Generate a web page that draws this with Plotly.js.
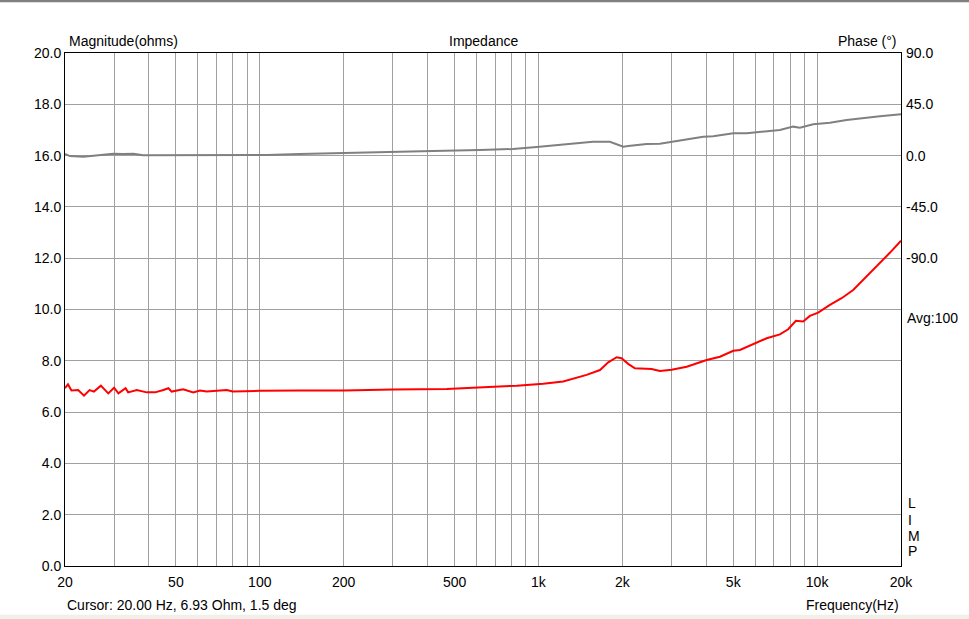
<!DOCTYPE html>
<html>
<head>
<meta charset="utf-8">
<script src="https://cdn.plot.ly/plotly-3.0.1.min.js"></script>
<style>
  html, body { margin: 0; padding: 0; background: #ffffff; }
  #chart { width: 969px; height: 619px; }
</style>
</head>
<body>
<div id="chart"></div>
<script>
// impedance magnitude (ohms) vs frequency (Hz)
const magFreq = [20, 20.5, 21.1, 22.3, 23.4, 24.5, 25.4, 26.9, 28.6, 30.0, 31.1, 33.0, 33.7, 36.2, 39.3,
  42.1, 45.1, 47.0, 48.3, 53.1, 57.7, 61.0, 64.5, 76.1, 80.0, 100, 139, 200, 301, 469, 582, 728, 836,
  1040, 1227, 1489, 1663, 1780, 1909, 1987, 2099, 2219, 2547, 2728, 3006, 3404, 4014, 4482, 5003, 5285,
  5903, 6591, 7352, 7875, 8391, 8914, 9420, 10090, 11115, 12240, 13473, 15060, 16800, 18235, 20000];
const magOhm = [6.93, 7.08, 6.84, 6.86, 6.64, 6.86, 6.80, 7.03, 6.73, 6.95, 6.73, 6.93, 6.77, 6.86, 6.77,
  6.77, 6.86, 6.93, 6.80, 6.89, 6.77, 6.84, 6.80, 6.86, 6.80, 6.83, 6.84, 6.84, 6.88, 6.90, 6.95, 6.99, 7.03,
  7.11, 7.19, 7.45, 7.64, 7.94, 8.14, 8.10, 7.88, 7.71, 7.68, 7.60, 7.65, 7.77, 8.03, 8.16, 8.39, 8.42,
  8.65, 8.88, 9.03, 9.23, 9.56, 9.53, 9.75, 9.88, 10.18, 10.44, 10.76, 11.28, 11.83, 12.21, 12.68];

// impedance phase (degrees) vs frequency (Hz)
const phFreq = [20, 20.8, 23.3, 26.7, 29.8, 32.4, 35.2, 38.2, 61.0, 106, 139, 210, 318, 418, 617, 810, 986,
  1330, 1567, 1805, 1909, 2015, 2099, 2445, 2728, 3218, 3901, 4238, 5003, 5585, 6591, 7352, 8204, 8671,
  9683, 11115, 12760, 14620, 16800, 20000];
const phDeg = [1.5, -0.4, -1.0, 0.8, 1.7, 1.3, 1.7, 0.3, 0.5, 0.5, 1.4, 2.3, 2.9, 4.0, 5.0, 5.8, 7.5,
  10.8, 12.2, 12.2, 10.2, 7.8, 8.4, 10.2, 10.4, 13.1, 16.6, 16.9, 19.6, 19.6, 21.6, 22.5, 25.4, 24.5,
  27.5, 28.9, 31.2, 33.0, 34.5, 36.2];

const gridFreq = [20, 30, 40, 50, 60, 70, 80, 90, 100, 200, 300, 400, 500, 600, 700, 800, 900,
  1000, 2000, 3000, 4000, 5000, 6000, 7000, 8000, 9000, 10000, 20000];
const freqLabels = {20: "20", 50: "50", 100: "100", 200: "200", 500: "500", 1000: "1k",
  2000: "2k", 5000: "5k", 10000: "10k", 20000: "20k"};
const phaseTicks = [90, 45, 0, -45, -90];

const font = { family: "Liberation Sans, Arial, sans-serif", size: 14, color: "#000000" };

const traces = [
  {
    x: phFreq, y: phDeg, yaxis: "y2", type: "scatter", mode: "lines",
    line: { color: "#808080", width: 2 }, hoverinfo: "skip"
  },
  {
    x: magFreq, y: magOhm, type: "scatter", mode: "lines",
    line: { color: "#ff0000", width: 2 }, hoverinfo: "skip"
  }
];

function ann(text, x, y, xanchor, yanchor) {
  return { text: text, x: x, y: y, xref: "paper", yref: "paper", xanchor: xanchor,
    yanchor: yanchor || "middle", showarrow: false, font: font };
}

const layout = {
  width: 969, height: 619,
  margin: { l: 65, r: 68, t: 53, b: 53 },
  paper_bgcolor: "#ffffff", plot_bgcolor: "#ffffff",
  showlegend: false,
  font: font,
  xaxis: {
    type: "log", range: [Math.log10(20), Math.log10(20000)],
    tickmode: "array", tickvals: gridFreq,
    ticktext: gridFreq.map(f => freqLabels[f] || ""),
    showgrid: true, gridcolor: "#a0a0a0", gridwidth: 1,
    showline: true, linecolor: "#000000", linewidth: 1, mirror: true,
    ticks: "", zeroline: false, tickfont: font, ticklabelstandoff: 3
  },
  yaxis: {
    range: [0, 20], tickmode: "linear", tick0: 0, dtick: 2, tickformat: ".1f",
    showgrid: true, gridcolor: "#a0a0a0", gridwidth: 1,
    showline: true, linecolor: "#000000", linewidth: 1, mirror: true,
    ticks: "", zeroline: false, tickfont: font
  },
  yaxis2: {
    overlaying: "y", side: "right", range: [-360, 90],
    tickmode: "array", tickvals: phaseTicks, ticktext: phaseTicks.map(v => v.toFixed(1)),
    showgrid: false, zeroline: false, showline: false, ticks: "", tickfont: font,
    ticklabelstandoff: 4
  },
  annotations: [
    ann("Magnitude(ohms)", 0.002, 1.004, "left", "bottom"),
    ann("Impedance", 0.5, 1.004, "center", "bottom"),
    ann("Phase (°)", 0.998, 1.004, "right", "bottom"),
    ann("Avg:100", 1.005, 0.484, "left"),
    ann("L", 1.006, 0.122, "left"),
    ann("I", 1.006, 0.090, "left"),
    ann("M", 1.006, 0.059, "left"),
    ann("P", 1.006, 0.029, "left"),
    ann("Cursor: 20.00 Hz, 6.93 Ohm, 1.5 deg", 0.0, -0.076, "left"),
    ann("Frequency(Hz)", 1.0, -0.076, "right")
  ],
  shapes: [
    { type: "rect", xref: "paper", yref: "paper", x0: -0.08, x1: 1.09, y0: 1.099, y1: 1.104,
      fillcolor: "#808080", line: { width: 0 } },
    { type: "rect", xref: "paper", yref: "paper", x0: -0.08, x1: 1.09, y0: -0.105, y1: -0.095,
      fillcolor: "#f0f0e8", line: { width: 0 } }
  ]
};

Plotly.newPlot("chart", traces, layout, { staticPlot: true });
</script>
</body>
</html>
